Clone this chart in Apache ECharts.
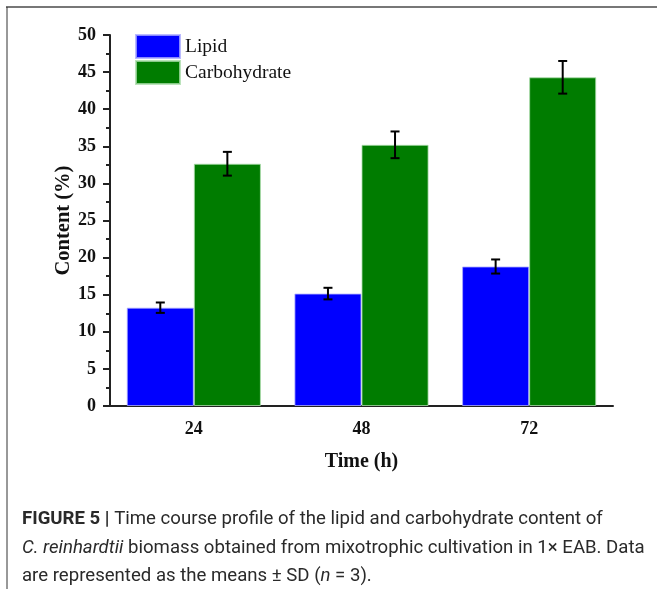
<!DOCTYPE html>
<html>
<head>
<meta charset="utf-8">
<script src="https://cdn.jsdelivr.net/npm/echarts@6/dist/echarts.min.js"></script>
<style>
  html, body { margin: 0; padding: 0; background: #fff; }
  #chart { width: 657px; height: 589px; }
</style>
</head>
<body>
<div id="chart"></div>
<script>
// data
var times = ['24', '48', '72'];
var lipid = [13.25, 15.15, 18.8];
var lipidSd = [0.7, 0.78, 0.95];
var carbohydrate = [32.65, 35.2, 44.3];
var carbohydrateSd = [1.6, 1.8, 2.2];
var yTicks = { min: 0, max: 50, step: 5 };

var serif = '"Liberation Serif", "Times New Roman", serif';
var sans = '"Roboto", "Liberation Sans", sans-serif';

// error bar rows: [categoryIndex, mean, sd, side]  side -1 = lipid, +1 = carbohydrate
var errRows = [];
times.forEach(function (t, i) {
  errRows.push([i, lipid[i], lipidSd[i], -1]);
  errRows.push([i, carbohydrate[i], carbohydrateSd[i], 1]);
});

function renderErr(params, api) {
  var idx = api.value(0), mean = api.value(1), sd = api.value(2), side = api.value(3);
  var band = api.size([1, 0])[0];
  var barW = band * 0.8 / 2;
  var c = api.coord([idx, mean]);
  var x = c[0] + side * barW / 2;
  var top = api.coord([idx, mean + sd])[1];
  var bot = api.coord([idx, mean - sd])[1];
  var cap = 4.5;
  var st = { stroke: '#000', lineWidth: 2 };
  return {
    type: 'group',
    children: [
      { type: 'line', shape: { x1: x, y1: top, x2: x, y2: bot }, style: st },
      { type: 'line', shape: { x1: x - cap, y1: top, x2: x + cap, y2: top }, style: st },
      { type: 'line', shape: { x1: x - cap, y1: bot, x2: x + cap, y2: bot }, style: st }
    ]
  };
}

var chart = echarts.init(document.getElementById('chart'));
var capFont = '18.6px ' + sans;

chart.setOption({
  backgroundColor: '#fff',
  animation: false,
  grid: { left: 110, right: 44, top: 35, bottom: 183 },
  legend: {
    orient: 'vertical',
    left: 130,
    top: 29,
    itemWidth: 44,
    itemHeight: 23,
    itemGap: 1,
    icon: 'rect',
    textStyle: { fontFamily: serif, fontSize: 19.5, color: '#111' },
    data: ['Lipid', 'Carbohydrate']
  },
  xAxis: [{
    type: 'category',
    data: times,
    name: 'Time (h)',
    nameLocation: 'middle',
    nameGap: 46,
    nameMoveOverlap: false,
    nameTextStyle: { fontFamily: serif, fontSize: 20, fontWeight: 'bold', color: '#111' },
    axisLine: { lineStyle: { color: '#222', width: 2 } },
    axisTick: { alignWithLabel: true, length: 7, lineStyle: { color: '#222', width: 2 } },
    axisLabel: { fontFamily: serif, fontSize: 18, fontWeight: 'bold', color: '#111', margin: 14 }
  }, {
    type: 'category',
    data: times,
    position: 'bottom',
    axisLine: { show: false },
    axisTick: { length: 4, lineStyle: { color: '#222', width: 2 } },
    axisLabel: { show: false }
  }],
  yAxis: {
    type: 'value',
    min: yTicks.min,
    max: yTicks.max,
    interval: yTicks.step,
    name: 'Content (%)',
    nameLocation: 'middle',
    nameGap: 36,
    nameMoveOverlap: false,
    nameTextStyle: { fontFamily: serif, fontSize: 20.5, fontWeight: 'bold', color: '#111' },
    axisLine: { show: true, lineStyle: { color: '#222', width: 2 } },
    axisTick: { show: true, length: 7, lineStyle: { color: '#222', width: 2 } },
    minorTick: { show: true, splitNumber: 2, length: 4, lineStyle: { color: '#222', width: 2 } },
    splitLine: { show: false },
    axisLabel: { fontFamily: serif, fontSize: 18, fontWeight: 'bold', color: '#111', margin: 14 }
  },
  series: [{
    name: 'Lipid',
    type: 'bar',
    data: lipid,
    barGap: '0%',
    barCategoryGap: '20%',
    itemStyle: { color: '#0000ff', borderColor: 'rgba(170,170,255,0.8)', borderWidth: 1 }
  }, {
    name: 'Carbohydrate',
    type: 'bar',
    data: carbohydrate,
    barGap: '0%',
    barCategoryGap: '20%',
    itemStyle: { color: '#007c00', borderColor: 'rgba(170,220,170,0.8)', borderWidth: 1 }
  }, {
    type: 'custom',
    data: errRows,
    renderItem: renderErr,
    z: 5,
    silent: true
  }],
  graphic: [
    { type: 'line', shape: { x1: 6, y1: 7, x2: 657, y2: 7 }, style: { stroke: '#777', lineWidth: 2 } },
    { type: 'line', shape: { x1: 7, y1: 7, x2: 7, y2: 589 }, style: { stroke: '#333', lineWidth: 1 } },
    {
      type: 'text', left: 22, top: 510,
      style: {
        text: '{b|FIGURE 5 |} Time course profile of the lipid and carbohydrate content of',
        font: capFont, fill: '#2a2a2a',
        rich: { b: { fontFamily: sans, fontSize: 18.6, fontWeight: 'bold', color: '#2a2a2a' } }
      }
    },
    {
      type: 'text', left: 22, top: 539,
      style: {
        text: '{i|C. reinhardtii} biomass obtained from mixotrophic cultivation in 1\u00d7 EAB. Data',
        font: capFont, fill: '#2a2a2a',
        rich: { i: { fontFamily: sans, fontSize: 18.6, fontStyle: 'italic', color: '#2a2a2a' } }
      }
    },
    {
      type: 'text', left: 22, top: 567,
      style: {
        text: 'are represented as the means \u00b1 SD ({i|n} = 3).',
        font: capFont, fill: '#2a2a2a',
        rich: { i: { fontFamily: sans, fontSize: 18.6, fontStyle: 'italic', color: '#2a2a2a' } }
      }
    }
  ]
});
</script>
</body>
</html>
